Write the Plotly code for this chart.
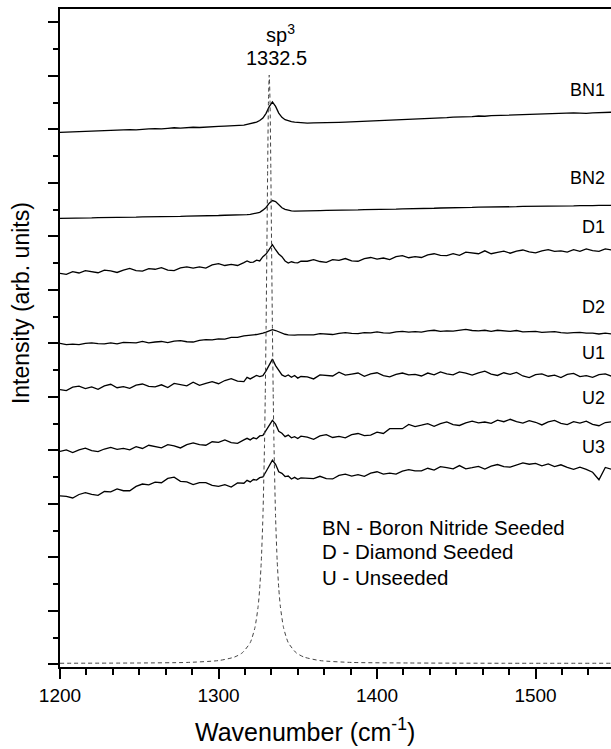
import plotly.graph_objects as go

# Wavenumber grid (cm^-1) shared by the measured spectra
wavenumber = [1200, 1204, 1208, 1212, 1216, 1220, 1224, 1228, 1232, 1236,
              1240, 1244, 1248, 1252, 1256, 1260, 1264, 1268, 1272, 1276,
              1280, 1284, 1288, 1292, 1296, 1300, 1304, 1308, 1312, 1316,
              1318, 1320, 1322, 1324, 1326, 1328, 1330, 1332, 1334, 1336,
              1338, 1340, 1342, 1344, 1346, 1348, 1350, 1352,
              1356, 1360, 1364, 1368, 1372, 1376, 1380, 1384, 1388, 1392,
              1396, 1400, 1404, 1408, 1412, 1416, 1420, 1424, 1428, 1432,
              1436, 1440, 1444, 1448, 1452, 1456, 1460, 1464, 1468, 1472,
              1476, 1480, 1484, 1488, 1492, 1496, 1500, 1504, 1508, 1512,
              1516, 1520, 1524, 1528, 1532, 1536, 1540, 1544, 1548]

bn1 = [19.89, 19.90, 19.91, 19.92, 19.92, 19.94, 19.95, 19.94, 19.96, 19.97,
       19.98, 19.99, 19.98, 20.01, 20.02, 20.03, 20.02, 20.04, 20.06, 20.05,
       20.07, 20.08, 20.07, 20.09, 20.10, 20.11, 20.12, 20.13, 20.14, 20.16,
       20.19, 20.21, 20.24, 20.27, 20.33, 20.42, 20.60, 20.85, 21.03, 20.86,
       20.61, 20.45, 20.36, 20.32, 20.29, 20.27, 20.26, 20.26,
       20.23, 20.24, 20.24, 20.25, 20.26, 20.26, 20.27, 20.28, 20.29, 20.29,
       20.31, 20.31, 20.33, 20.33, 20.35, 20.36, 20.37, 20.38, 20.39, 20.41,
       20.42, 20.43, 20.44, 20.46, 20.46, 20.47, 20.48, 20.50, 20.49, 20.51,
       20.52, 20.52, 20.53, 20.55, 20.54, 20.56, 20.57, 20.57, 20.58, 20.60,
       20.59, 20.60, 20.62, 20.61, 20.60, 20.62, 20.63, 20.62, 20.64]

bn2 = [16.67, 16.67, 16.68, 16.68, 16.69, 16.69, 16.70, 16.70, 16.71, 16.70,
       16.71, 16.72, 16.72, 16.73, 16.73, 16.74, 16.74, 16.75, 16.74, 16.75,
       16.76, 16.76, 16.77, 16.77, 16.78, 16.78, 16.79, 16.79, 16.80, 16.81,
       16.81, 16.82, 16.84, 16.86, 16.90, 16.98, 17.08, 17.24, 17.34, 17.30,
       17.17, 17.07, 17.01, 16.97, 16.95, 16.94, 16.94, 16.95,
       16.95, 16.96, 16.96, 16.97, 16.97, 16.98, 16.98, 16.99, 16.99, 17.00,
       17.00, 17.01, 17.01, 17.02, 17.02, 17.03, 17.03, 17.04, 17.04, 17.05,
       17.05, 17.06, 17.06, 17.07, 17.07, 17.08, 17.08, 17.09, 17.09, 17.10,
       17.10, 17.10, 17.11, 17.11, 17.12, 17.12, 17.12, 17.13, 17.13, 17.13,
       17.14, 17.14, 17.14, 17.15, 17.14, 17.15, 17.16, 17.15, 17.16]

d1 = [14.62, 14.58, 14.68, 14.63, 14.72, 14.67, 14.64, 14.74, 14.71, 14.65,
      14.74, 14.80, 14.72, 14.70, 14.79, 14.77, 14.83, 14.74, 14.72, 14.82,
      14.86, 14.81, 14.86, 14.81, 14.93, 14.98, 14.91, 14.95, 14.91, 15.02,
      15.08, 15.03, 15.04, 15.11, 15.08, 15.24, 15.34, 15.51, 15.69, 15.50,
      15.34, 15.24, 15.08, 15.00, 15.05, 15.02, 15.01, 15.07,
      15.07, 15.13, 15.06, 15.03, 15.13, 15.10, 15.17, 15.08, 15.07, 15.17,
      15.21, 15.15, 15.19, 15.13, 15.24, 15.28, 15.20, 15.24, 15.21, 15.31,
      15.35, 15.29, 15.28, 15.35, 15.29, 15.41, 15.38, 15.35, 15.46, 15.35,
      15.40, 15.45, 15.37, 15.45, 15.49, 15.42, 15.38, 15.46, 15.50, 15.44,
      15.46, 15.41, 15.50, 15.44, 15.53, 15.47, 15.44, 15.53, 15.49]

d2 = [12.00, 11.95, 11.97, 11.95, 12.00, 12.02, 11.99, 11.98, 12.02, 11.98,
      12.04, 12.03, 12.02, 12.07, 12.02, 12.05, 12.07, 12.03, 12.08, 12.10,
      12.06, 12.05, 12.11, 12.14, 12.13, 12.17, 12.16, 12.22, 12.22, 12.28,
      12.30, 12.31, 12.32, 12.33, 12.35, 12.38, 12.42, 12.47, 12.51, 12.48,
      12.43, 12.38, 12.34, 12.32, 12.31, 12.31, 12.32, 12.32,
      12.33, 12.32, 12.36, 12.35, 12.33, 12.37, 12.40, 12.37, 12.36, 12.40,
      12.39, 12.43, 12.39, 12.38, 12.43, 12.45, 12.42, 12.44, 12.42, 12.47,
      12.49, 12.45, 12.47, 12.46, 12.50, 12.52, 12.48, 12.47, 12.49, 12.45,
      12.49, 12.47, 12.45, 12.48, 12.43, 12.44, 12.45, 12.41, 12.43, 12.44,
      12.40, 12.38, 12.40, 12.41, 12.38, 12.38, 12.35, 12.38, 12.35]

u1 = [10.27, 10.23, 10.36, 10.40, 10.31, 10.37, 10.28, 10.41, 10.47, 10.34,
      10.38, 10.32, 10.44, 10.48, 10.39, 10.37, 10.45, 10.35, 10.50, 10.45,
      10.41, 10.55, 10.43, 10.50, 10.57, 10.49, 10.61, 10.68, 10.59, 10.57,
      10.73, 10.67, 10.75, 10.80, 10.76, 10.79, 10.97, 11.22, 11.41, 11.17,
      11.00, 10.82, 10.76, 10.82, 10.73, 10.80, 10.70, 10.76,
      10.75, 10.67, 10.82, 10.81, 10.78, 10.92, 10.81, 10.85, 10.89, 10.77,
      10.86, 10.90, 10.79, 10.75, 10.84, 10.89, 10.82, 10.84, 10.78, 10.89,
      10.82, 10.93, 10.86, 10.82, 10.93, 10.89, 10.81, 10.90, 10.96, 10.85,
      10.80, 10.90, 10.84, 10.91, 10.78, 10.72, 10.83, 10.86, 10.77, 10.81,
      10.72, 10.84, 10.88, 10.76, 10.79, 10.73, 10.83, 10.86, 10.77]

u2 = [7.96, 8.02, 7.92, 8.02, 8.08, 7.99, 7.95, 8.05, 8.11, 8.04,
      8.07, 8.02, 8.14, 8.07, 8.19, 8.13, 8.09, 8.21, 8.17, 8.09,
      8.21, 8.28, 8.21, 8.19, 8.32, 8.30, 8.39, 8.29, 8.26, 8.39,
      8.45, 8.39, 8.47, 8.43, 8.54, 8.56, 8.75, 8.93, 9.12, 8.98,
      8.71, 8.64, 8.51, 8.57, 8.47, 8.51, 8.44, 8.53,
      8.49, 8.41, 8.54, 8.59, 8.48, 8.52, 8.47, 8.59, 8.63, 8.55,
      8.57, 8.68, 8.63, 8.81, 8.81, 8.81, 8.97, 8.89, 8.94, 9.00,
      8.90, 9.00, 9.06, 8.96, 8.93, 9.03, 9.09, 9.03, 9.06, 9.01,
      9.13, 9.07, 9.16, 9.07, 9.02, 9.11, 9.05, 8.95, 9.06, 9.12,
      9.01, 8.96, 9.07, 9.02, 9.09, 8.97, 8.92, 9.04, 9.07]

u3 = [6.30, 6.28, 6.22, 6.35, 6.42, 6.35, 6.32, 6.46, 6.45, 6.56,
      6.49, 6.49, 6.65, 6.74, 6.71, 6.81, 6.79, 6.95, 7.00, 6.84,
      6.82, 6.72, 6.79, 6.79, 6.69, 6.65, 6.72, 6.63, 6.78, 6.77,
      6.88, 6.82, 6.91, 6.89, 6.98, 7.01, 7.21, 7.43, 7.63, 7.48,
      7.20, 7.14, 7.02, 7.04, 6.93, 6.99, 6.92, 6.97,
      6.96, 6.94, 7.03, 6.94, 6.93, 7.06, 7.11, 7.04, 7.09, 7.03,
      7.15, 7.20, 7.11, 7.15, 7.11, 7.22, 7.28, 7.23, 7.23, 7.33,
      7.26, 7.39, 7.35, 7.31, 7.43, 7.31, 7.35, 7.40, 7.30, 7.41,
      7.47, 7.39, 7.37, 7.46, 7.53, 7.48, 7.51, 7.42, 7.49, 7.39,
      7.46, 7.36, 7.29, 7.37, 7.29, 7.18, 6.90, 7.36, 7.29]

ref_x = [1200, 1250, 1280, 1300, 1310, 1315, 1320, 1323, 1325, 1326, 1327,
         1328, 1329, 1329.5, 1330, 1330.5, 1331, 1331.5, 1332, 1332.5, 1333,
         1333.5, 1334, 1334.5, 1335, 1336, 1337, 1338, 1339, 1341, 1344,
         1349, 1354, 1364, 1384, 1420, 1480, 1548]
ref_y = [0.04, 0.05, 0.07, 0.14, 0.27, 0.43, 0.81, 1.38, 2.17, 2.85, 3.87,
         5.50, 8.18, 10.12, 12.56, 15.47, 18.53, 21.04, 22.03, 21.04, 18.53,
         15.47, 12.56, 10.12, 8.18, 5.50, 3.87, 2.85, 2.17, 1.38, 0.81,
         0.43, 0.27, 0.14, 0.07, 0.05, 0.04, 0.04]

series_names = ["BN1", "BN2", "D1", "D2", "U1", "U2", "U3"]
series_values = [bn1, bn2, d1, d2, u1, u2, u3]
label_y = [21.47, 18.18, 16.35, 13.36, 11.64, 9.96, 8.13]
legend_lines = ["BN - Boron Nitride Seeded", "D - Diamond Seeded", "U - Unseeded"]
legend_y = [5.10, 4.20, 3.23]

for name, vals in zip(series_names, series_values):
    if len(vals) != len(wavenumber):
        raise ValueError(f"{name}: {len(vals)} vs {len(wavenumber)}")
if len(ref_x) != len(ref_y):
    raise ValueError("ref lengths")

FONT = "Liberation Sans, Arial, Helvetica, sans-serif"

fig = go.Figure()
for name, vals in zip(series_names, series_values):
    fig.add_trace(go.Scatter(x=wavenumber, y=vals, mode="lines", name=name,
                             line=dict(color="black", width=1.3)))
fig.add_trace(go.Scatter(x=ref_x, y=ref_y, mode="lines", name="sp3",
                         line=dict(color="#444444", width=1, dash="4px,3px",
                                   shape="spline", smoothing=0.6)))

annotations = []
for name, yv in zip(series_names, label_y):
    annotations.append(dict(x=1545, y=yv, xref="x", yref="y", text=name,
                            showarrow=False, xanchor="right", yanchor="middle",
                            font=dict(family=FONT, size=18, color="black")))
for line, yv in zip(legend_lines, legend_y):
    annotations.append(dict(x=1364, y=yv, xref="x", yref="y", text=line,
                            showarrow=False, xanchor="left", yanchor="middle",
                            font=dict(family=FONT, size=20.5, color="black")))
annotations.append(dict(x=1338.8, y=23.6, xref="x", yref="y",
                        text="sp<sup>3</sup>", showarrow=False,
                        xanchor="center", yanchor="middle",
                        font=dict(family=FONT, size=20, color="black")))
annotations.append(dict(x=1336.3, y=22.67, xref="x", yref="y",
                        text="1332.5", showarrow=False,
                        xanchor="center", yanchor="middle",
                        font=dict(family=FONT, size=20, color="black")))
annotations.append(dict(x=0.4446, y=-0.0957, xref="paper", yref="paper",
                        text="Wavenumber (cm<sup>-1</sup>)", showarrow=False,
                        xanchor="center", yanchor="middle",
                        font=dict(family=FONT, size=25, color="black")))
annotations.append(dict(x=-0.0708, y=0.553, xref="paper", yref="paper",
                        text="Intensity (arb. units)", showarrow=False,
                        textangle=-90, xanchor="center", yanchor="middle",
                        font=dict(family=FONT, size=23, color="black")))

fig.update_layout(
    width=611, height=749,
    margin=dict(l=60, r=0, t=9, b=82),
    paper_bgcolor="white", plot_bgcolor="white",
    showlegend=False,
    annotations=annotations,
    xaxis=dict(range=[1200, 1547.6], showgrid=False, zeroline=False,
               showline=True, linewidth=2, linecolor="black", mirror=True,
               ticks="outside", ticklen=10, tickwidth=1.5, tickcolor="black",
               tick0=1200, dtick=100,
               tickfont=dict(family=FONT, size=19, color="black"),
               minor=dict(ticks="outside", ticklen=6, tickwidth=1.5,
                          tickcolor="black", dtick=100 / 6, showgrid=False)),
    yaxis=dict(range=[-0.1, 24.5], showgrid=False, zeroline=False,
               showline=True, linewidth=2, linecolor="black", mirror=False,
               ticks="outside", ticklen=10, tickwidth=1.5, tickcolor="black",
               tick0=0, dtick=2, showticklabels=False,
               minor=dict(ticks="outside", ticklen=5, tickwidth=1.5,
                          tickcolor="black", dtick=1, showgrid=False)),
)

# Remove the browser's default 8px body margin so the figure fills the window
fig.write_html("out.html",
               config={"displayModeBar": False},
               post_script="document.body.style.margin='0';"
                           "document.body.style.overflow='hidden';")
